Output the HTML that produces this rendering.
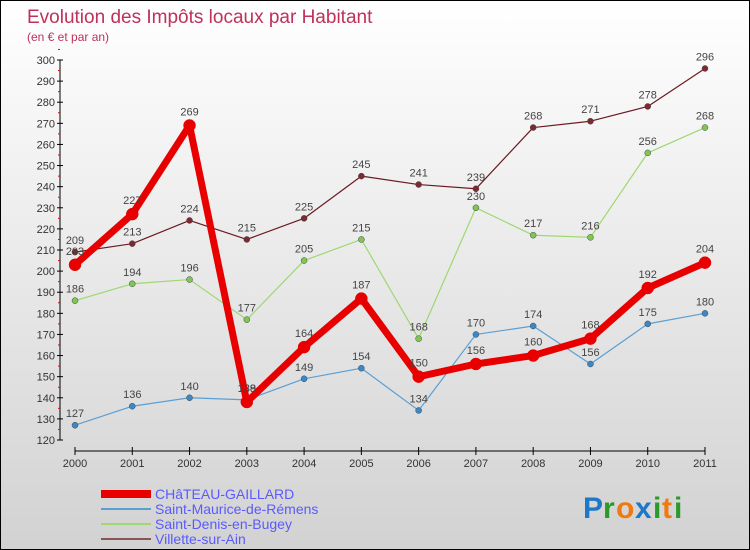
<!DOCTYPE html>
<html><head><meta charset="utf-8"><style>
body{margin:0}
#c{width:748px;height:548px;border:1px solid #000;background:linear-gradient(#fff,#d2d2d2);position:relative;overflow:hidden;font-family:"Liberation Sans",sans-serif}
svg text{font-family:"Liberation Sans",sans-serif}
</style></head><body>
<div id="c">
<svg id="s" width="748" height="548">
<text x="26" y="22" font-size="19" fill="#c0305a">Evolution des Impôts locaux par Habitant</text>
<text x="26" y="40" font-size="12" fill="#c0305a">(en € et par an)</text>
<g id="ax"></g><g id="ser"></g><g id="lg"></g>
<g font-size="30" font-weight="bold">
<text x="582" y="517" fill="#1e78c8">P</text><text x="602" y="517" fill="#2a9a2a">r</text><text x="615" y="517" fill="#f07a10">o</text><text x="634" y="517" fill="#1e78c8">x</text><text x="652" y="517" fill="#2a9a2a">i</text><text x="661" y="517" fill="#f07a10">t</text><text x="673" y="517" fill="#2a9a2a">i</text>
</g>
</svg></div>
<script>
const years=[2000,2001,2002,2003,2004,2005,2006,2007,2008,2009,2010,2011];
const yTicks=[120,130,140,150,160,170,180,190,200,210,220,230,240,250,260,270,280,290,300];
const chateau=[203,227,269,138,164,187,150,156,160,168,192,204];
const maurice=[127,136,140,139,149,154,134,170,174,156,175,180];
const denis=[186,194,196,177,205,215,168,230,217,216,256,268];
const villette=[209,213,224,215,225,245,241,239,268,271,278,296];
const names=["CHâTEAU-GAILLARD","Saint-Maurice-de-Rémens","Saint-Denis-en-Bugey","Villette-sur-Ain"];
const NS="http://www.w3.org/2000/svg";
const X=i=>74+i*(630/11);
const Y=v=>59+(300-v)*(380/180);
function mk(t,a,p){const e=document.createElementNS(NS,t);for(const k in a)e.setAttribute(k,a[k]);p.appendChild(e);return e;}
const ax=document.getElementById('ax');
let l=mk('line',{x1:59,y1:Y(300),x2:59,y2:Y(120),stroke:'#000'},ax);


yTicks.forEach(v=>{
  mk('line',{x1:56,y1:Y(v),x2:62,y2:Y(v),stroke:'#000'},ax);
  mk('line',{x1:57,y1:Y(v+5),x2:59,y2:Y(v+5),stroke:'#e00'},ax);
  const t=mk('text',{x:54,y:Y(v)+4,'font-size':11,fill:'#333','text-anchor':'end'},ax);t.textContent=v;
  
  
});
l=mk('line',{x1:74,y1:450,x2:704,y2:450,stroke:'#000'},ax);


years.forEach((y,i)=>{
  mk('line',{x1:X(i),y1:446,x2:X(i),y2:454,stroke:'#000'},ax);
  const t=mk('text',{x:X(i),y:466,'font-size':11,fill:'#333','text-anchor':'middle'},ax);t.textContent=y;
  
  
});
const ser=document.getElementById('ser');
const defs=[[villette,'#6b1a22','#7a2a30',1.2,3,'villette'],[denis,'#9ed870','#7cc850',1.2,3,'saint-denis'],[maurice,'#5a9fd4','#3a88c8',1.2,3,'saint-maurice'],[chateau,'#e80000','#e80000',7,6,'chateau-gaillard']];
defs.forEach(([d,c,pc,w,r,n])=>{
  const g=mk('g',{},ser);
  
  
  const pl=mk('polyline',{points:d.map((v,i)=>X(i)+','+Y(v)).join(' '),fill:'none',stroke:c,'stroke-width':w,'stroke-linejoin':'round'},g);
  
  
  d.forEach((v,i)=>{
    const p=mk('circle',{cx:X(i),cy:Y(v),r:r,fill:pc,stroke:w>2?pc:'#444','stroke-width':0.5},g);
    
    
    const t=mk('text',{x:X(i),y:Y(v)-(w>2?10:8),'font-size':11,fill:'#444','text-anchor':'middle'},g);t.textContent=v;
    
    
  });
});
const lg=document.getElementById('lg');
const lc=[['#e80000',8],['#5a9fd4',2],['#9ed870',2],['#8a5555',2]];
names.forEach((n,i)=>{
  const y=493+i*15;
  const g=mk('g',{},lg);
  
  
  mk('line',{x1:100,y1:y,x2:150,y2:y,stroke:lc[i][0],'stroke-width':lc[i][1]},g);
  const t=mk('text',{x:154,y:y+5,'font-size':14,fill:'#5a5aff'},g);t.textContent=n;
});
</script>
</body></html>
